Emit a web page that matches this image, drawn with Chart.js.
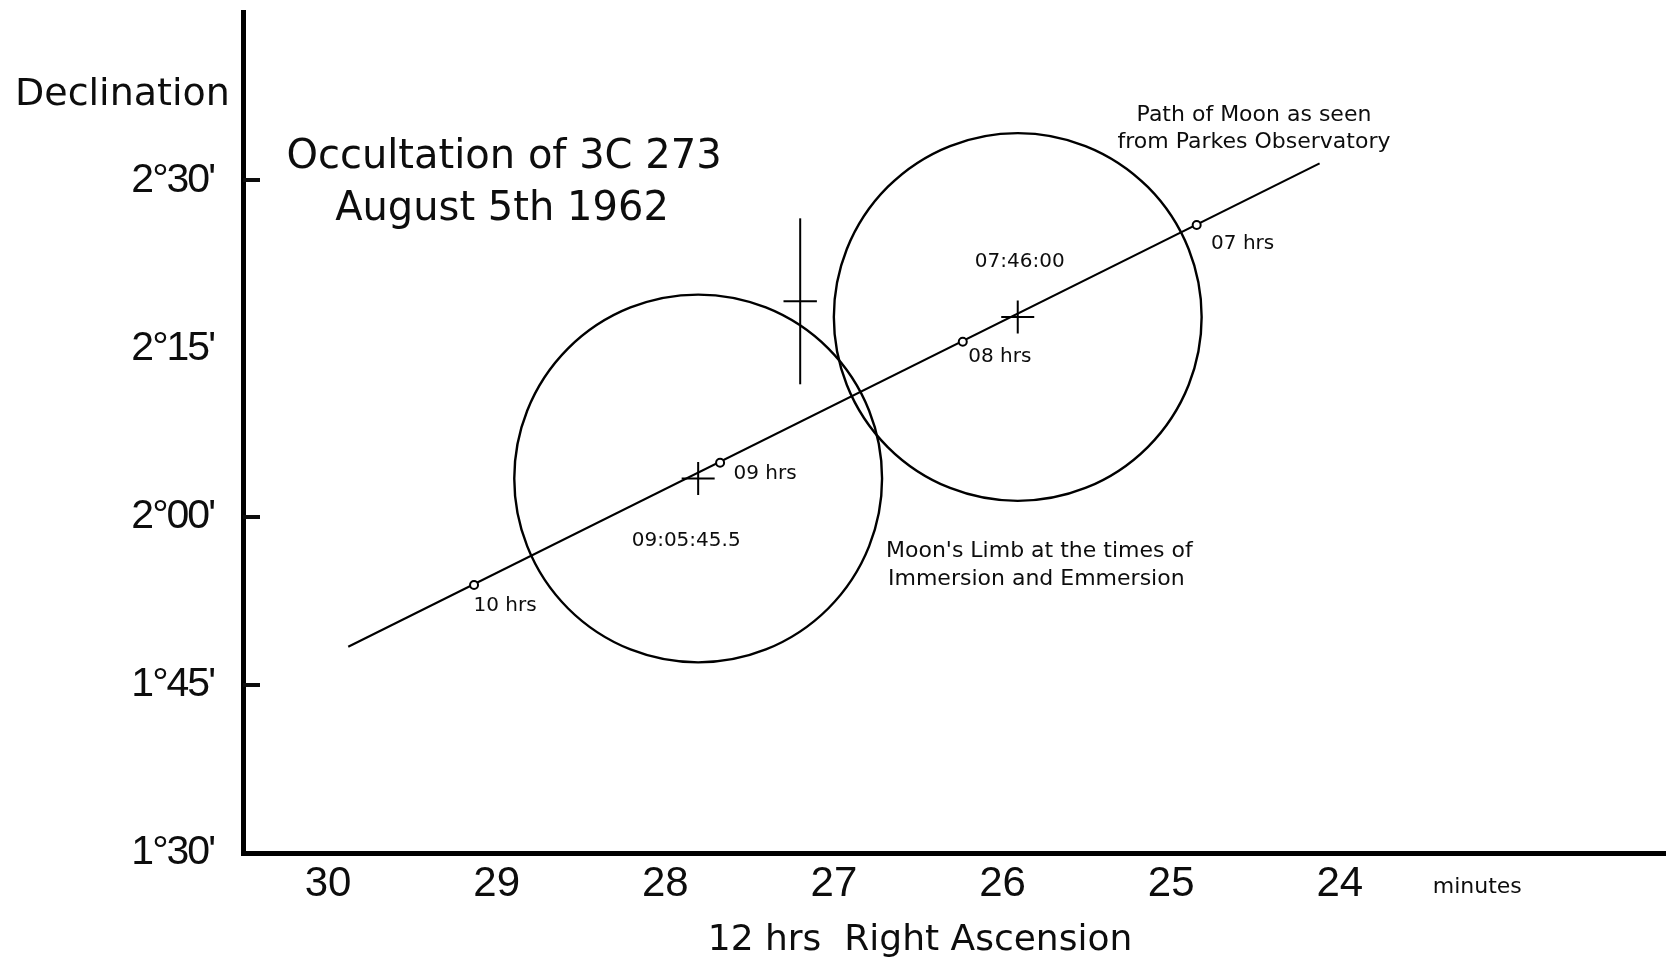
<!DOCTYPE html>
<html>
<head>
<meta charset="utf-8">
<title>Occultation of 3C 273</title>
<script src="https://cdn.jsdelivr.net/npm/chart.js@4.4.1/dist/chart.umd.min.js"></script>
<style>
  html, body { margin: 0; padding: 0; background: #fff; }
  canvas { display: block; }
</style>
</head>
<body>
<canvas id="occ" width="1666" height="963"></canvas>
<script>
// Right ascension in minutes of time past 12h, declination in arcminutes.
const raTicks = [30, 29, 28, 27, 26, 25, 24];
const decTicks = [90, 105, 120, 135, 150];
const decTickLabels = ["1°30'", "1°45'", "2°00'", "2°15'", "2°30'"];
const decTickMarked = [105, 120, 150];

// Path of the Moon across the sky as seen from Parkes
const pathRA = [29.88, 24.12];
const pathDec = [108.4, 151.5];

// Hourly positions of the Moon's centre along the path
const hourLabels = ["10 hrs", "09 hrs", "08 hrs", "07 hrs"];
const hourRA = [29.134, 27.675, 26.236, 24.849];
const hourDec = [113.9, 124.8, 135.6, 146.0];

// Moon's centre at immersion and emersion
const contactLabels = ["09:05:45.5", "07:46:00"];
const contactRA = [27.805, 25.91];
const contactDec = [123.4, 137.8];
const moonRadius = 16.4; // arcmin

// Radio position of 3C 273 with its error bars
const sourceRA = 27.20;
const sourceDec = 139.2;
const sourceErrRA = 0.099;
const sourceErrDec = 7.4;

const pts = (xs, ys) => xs.map((v, i) => ({ x: v, y: ys[i] }));

const INK = '#0d0d0d';
const gothic = (s) => `${s}px "DejaVu Sans", "Noto Sans", sans-serif`;

// label offsets (px) from their marks
const hourLabelOffset = [[31, 21], [45, 11], [37, 15], [46, 19]];
const contactLabelOffset = [[-12, 62], [2, -55]];

// slightly tighter spacing for the declination labels
const tightDecLabels = {
  id: 'tightDecLabels',
  afterLayout(chart) {
    const s = chart.scales.y;
    if (s && !s.__tight) {
      const base = s.drawLabels;
      s.drawLabels = function (area) {
        const c = this.ctx;
        const prev = c.letterSpacing;
        c.letterSpacing = '-2px';
        base.call(this, area);
        c.letterSpacing = prev || '0px';
      };
      s.__tight = true;
    }
  }
};

const annotations = {
  id: 'annotations',
  afterDraw(chart) {
    const { ctx, chartArea: a, scales: { x, y } } = chart;
    ctx.save();

    // inward tick marks on the declination axis
    ctx.strokeStyle = INK;
    ctx.lineWidth = 4;
    decTickMarked.forEach(v => {
      const py = Math.round(y.getPixelForValue(v));
      ctx.beginPath();
      ctx.moveTo(a.left, py);
      ctx.lineTo(a.left + 17, py);
      ctx.stroke();
    });

    ctx.fillStyle = INK;
    const put = (t, px, py, size, align = 'center', base = 'middle') => {
      ctx.font = gothic(size);
      ctx.textAlign = align;
      ctx.textBaseline = base;
      ctx.fillText(t, px, py);
    };

    // axis titles
    put('Declination', 15, 105, 38, 'left', 'alphabetic');
    put('12 hrs  Right Ascension', 920, 950, 36, 'center', 'alphabetic');
    put('minutes', x.getPixelForValue(23.185), 893, 22, 'center', 'alphabetic');

    // title
    put('Occultation of 3C 273', 504, 168, 40, 'center', 'alphabetic');
    put('August 5th 1962', 502, 220, 40, 'center', 'alphabetic');

    // hour labels
    hourLabels.forEach((t, i) => {
      put(t, x.getPixelForValue(hourRA[i]) + hourLabelOffset[i][0],
             y.getPixelForValue(hourDec[i]) + hourLabelOffset[i][1], 20);
    });

    // contact time labels
    contactLabels.forEach((t, i) => {
      put(t, x.getPixelForValue(contactRA[i]) + contactLabelOffset[i][0],
             y.getPixelForValue(contactDec[i]) + contactLabelOffset[i][1], 20);
    });

    // notes
    put('Path of Moon as seen', 1254, 115, 22);
    put('from Parkes Observatory', 1254, 142, 22);
    put("Moon's Limb at the times of", 886, 551, 22, 'left');
    put('Immersion and Emmersion', 888, 579, 22, 'left');

    ctx.restore();
  }
};

new Chart(document.getElementById('occ'), {
  type: 'scatter',
  data: {
    datasets: [
      {
        label: 'Path of Moon',
        data: pts(pathRA, pathDec),
        showLine: true,
        borderColor: '#000',
        borderWidth: 2.2,
        pointRadius: 0,
        order: 3
      },
      {
        label: "Moon's limb",
        data: pts(contactRA, contactDec),
        pointStyle: 'circle',
        pointRadius: (c) => {
          const s = c.chart.scales.y;
          return Math.abs(s.getPixelForValue(moonRadius) - s.getPixelForValue(0));
        },
        backgroundColor: 'rgba(0,0,0,0)',
        borderColor: '#000',
        borderWidth: 2.4,
        order: 4
      },
      {
        label: 'Contact centres',
        data: pts(contactRA, contactDec),
        pointStyle: 'cross',
        pointRadius: 16.5,
        borderColor: '#000',
        borderWidth: 2,
        order: 2
      },
      {
        label: 'Hourly positions',
        data: pts(hourRA, hourDec),
        pointStyle: 'circle',
        pointRadius: 4,
        backgroundColor: '#fff',
        borderColor: '#000',
        borderWidth: 2,
        order: 1
      },
      {
        label: '3C 273 dec error',
        data: [{ x: sourceRA, y: sourceDec - sourceErrDec }, { x: sourceRA, y: sourceDec + sourceErrDec }],
        showLine: true,
        borderColor: '#000',
        borderWidth: 2,
        pointRadius: 0,
        order: 5
      },
      {
        label: '3C 273 RA error',
        data: [{ x: sourceRA - sourceErrRA, y: sourceDec }, { x: sourceRA + sourceErrRA, y: sourceDec }],
        showLine: true,
        borderColor: '#000',
        borderWidth: 2,
        pointRadius: 0,
        order: 5
      }
    ]
  },
  options: {
    responsive: false,
    devicePixelRatio: 1,
    animation: false,
    events: [],
    layout: { autoPadding: false, padding: { top: 12, right: 0, left: 0, bottom: 0 } },
    plugins: { legend: { display: false }, tooltip: { enabled: false }, title: { display: false } },
    scales: {
      x: {
        type: 'linear',
        reverse: true,
        min: 22.066,
        max: 30.504,
        afterBuildTicks: (s) => { s.ticks = raTicks.map(v => ({ value: v })); },
        afterFit: (s) => { s.height = 110; s.paddingLeft = 0; s.paddingRight = 0; },
        grid: { display: false, drawTicks: false },
        border: { display: true, color: '#000', width: 5 },
        ticks: {
          autoSkip: false,
          maxRotation: 0,
          padding: 6,
          color: INK,
          font: { family: '"Liberation Sans", Arial, sans-serif', size: 42 },
          callback: (v) => String(v)
        }
      },
      y: {
        type: 'linear',
        min: 90,
        max: 165,
        afterBuildTicks: (s) => { s.ticks = decTicks.map(v => ({ value: v })); },
        afterFit: (s) => { s.width = 243; s.paddingTop = 0; s.paddingBottom = 0; },
        grid: { display: false, drawTicks: false },
        border: { display: true, color: '#000', width: 5 },
        ticks: {
          autoSkip: false,
          padding: 29,
          color: INK,
          font: { family: '"Liberation Sans", Arial, sans-serif', size: 41 },
          callback: (v) => decTickLabels[decTicks.indexOf(v)]
        }
      }
    }
  },
  plugins: [tightDecLabels, annotations]
});
</script>
</body>
</html>
